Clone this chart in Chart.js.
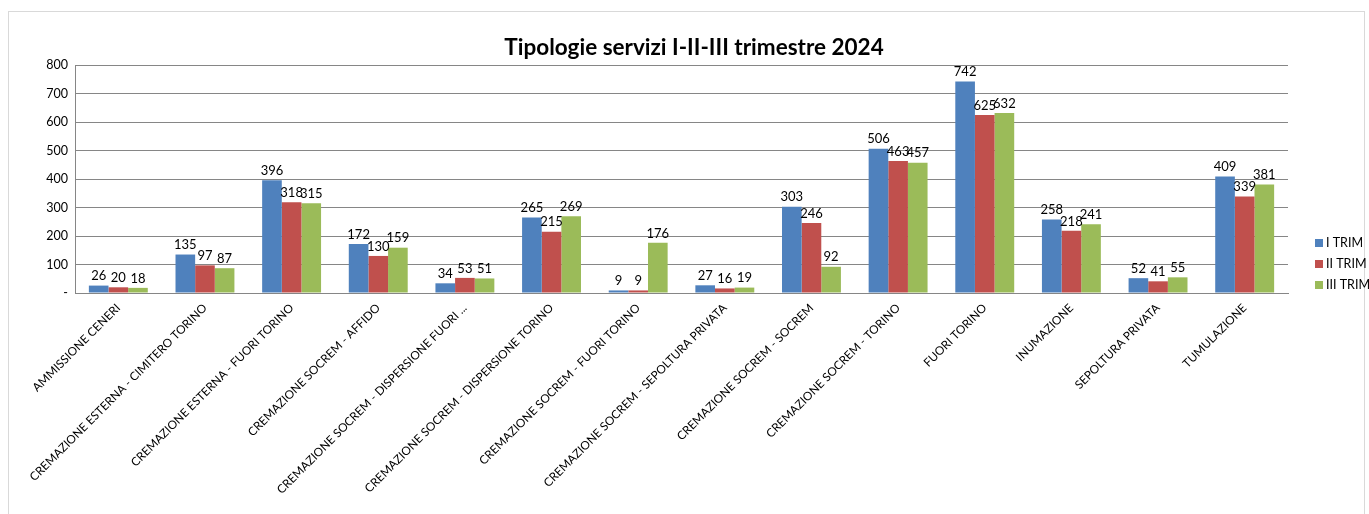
<!DOCTYPE html>
<html>
<head>
<meta charset="utf-8">
<script src="https://cdn.jsdelivr.net/npm/chart.js@4/dist/chart.umd.min.js"></script>
<style>
  html, body { margin: 0; padding: 0; background: #fff; }
  body { width: 1369px; height: 514px; position: relative; overflow: hidden; }
  #frame { position: absolute; left: 8px; top: 11px; width: 1355px; height: 520px; border: 1px solid #d9d9d9; }
  #servChart { position: absolute; left: 0; top: 0; }
</style>
</head>
<body>
<div id="frame"></div>
<canvas id="servChart" width="1369" height="514"></canvas>
<script>
const categories = [
  'AMMISSIONE CENERI',
  'CREMAZIONE ESTERNA - CIMITERO TORINO',
  'CREMAZIONE ESTERNA - FUORI TORINO',
  'CREMAZIONE SOCREM - AFFIDO',
  'CREMAZIONE SOCREM - DISPERSIONE FUORI ...',
  'CREMAZIONE SOCREM - DISPERSIONE TORINO',
  'CREMAZIONE SOCREM - FUORI TORINO',
  'CREMAZIONE SOCREM - SEPOLTURA PRIVATA',
  'CREMAZIONE SOCREM - SOCREM',
  'CREMAZIONE SOCREM - TORINO',
  'FUORI TORINO',
  'INUMAZIONE',
  'SEPOLTURA PRIVATA',
  'TUMULAZIONE'
];

const trim1 = [26, 135, 396, 172, 34, 265, 9, 27, 303, 506, 742, 258, 52, 409];
const trim2 = [20, 97, 318, 130, 53, 215, 9, 16, 246, 463, 625, 218, 41, 339];
const trim3 = [18, 87, 315, 159, 51, 269, 176, 19, 92, 457, 632, 241, 55, 381];

const seriesNames = ['I TRIM', 'II TRIM', 'III TRIM'];
const yTicks = [0, 100, 200, 300, 400, 500, 600, 700, 800];

const FONT = 'Lato, "Open Sans", sans-serif';

// value labels above each bar
const valueLabels = {
  id: 'valueLabels',
  afterDatasetsDraw(chart) {
    const c = chart.ctx;
    c.save();
    c.font = '13px ' + FONT;
    c.fillStyle = '#000';
    c.textAlign = 'center';
    c.textBaseline = 'bottom';
    chart.data.datasets.forEach((ds, i) => {
      chart.getDatasetMeta(i).data.forEach((bar, j) => {
        c.fillText(ds.data[j], bar.x, bar.y - 3);
      });
    });
    c.restore();
  }
};

// title + legend drawn by hand so they sit where the original has them
const titleLegend = {
  id: 'titleLegend',
  afterDraw(chart) {
    const c = chart.ctx;
    c.save();
    c.fillStyle = '#000';
    c.font = 'bold 22.5px ' + FONT;
    c.textAlign = 'center';
    c.textBaseline = 'middle';
    c.fillText('Tipologie servizi I-II-III trimestre 2024', 694, 48);

    c.font = '12.5px ' + FONT;
    c.textAlign = 'left';
    chart.data.datasets.forEach((ds, i) => {
      const y = 243 + i * 21;
      c.fillStyle = ds.backgroundColor;
      c.fillRect(1315, y - 4, 8, 8);
      c.fillStyle = '#000';
      c.fillText(ds.label, 1326, y);
    });
    c.restore();
  }
};

new Chart(document.getElementById('servChart'), {
  type: 'bar',
  data: {
    labels: categories,
    datasets: [
      { label: seriesNames[0], data: trim1, backgroundColor: '#4f81bd' },
      { label: seriesNames[1], data: trim2, backgroundColor: '#c0504d' },
      { label: seriesNames[2], data: trim3, backgroundColor: '#9bbb59' }
    ]
  },
  options: {
    responsive: false,
    animation: false,
    devicePixelRatio: 1,
    layout: { padding: { top: 65, right: 81, bottom: 0, left: 0 } },
    datasets: { bar: { categoryPercentage: 0.68, barPercentage: 1.0 } },
    plugins: {
      legend: { display: false },
      title: { display: false },
      tooltip: { enabled: false }
    },
    scales: {
      x: {
        grid: { display: false, drawTicks: false },
        border: { display: true, color: '#868686', width: 1 },
        afterFit(scale) { scale.height = 221; },
        ticks: {
          autoSkip: false,
          minRotation: 45,
          maxRotation: 45,
          padding: 8,
          color: '#000',
          font: { family: FONT, size: 11.75 }
        }
      },
      y: {
        min: 0,
        max: 800,
        afterFit(scale) { scale.width = 75; },
        afterBuildTicks(scale) { scale.ticks = yTicks.map(v => ({ value: v })); },
        grid: { color: '#868686', lineWidth: 1, drawTicks: false },
        border: { display: true, color: '#868686', width: 1 },
        ticks: {
          padding: 7,
          color: '#000',
          font: { family: FONT, size: 12.5 },
          callback: v => v === 0 ? '-' : v
        }
      }
    }
  },
  plugins: [valueLabels, titleLegend]
});
</script>
</body>
</html>
